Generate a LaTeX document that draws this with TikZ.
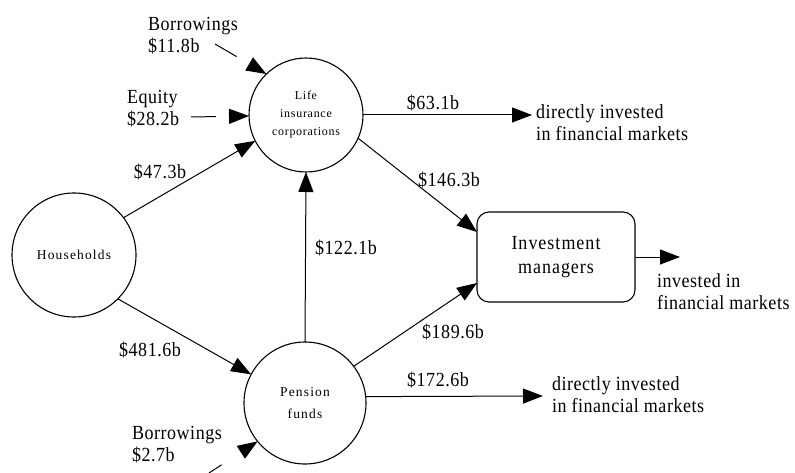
\documentclass[tikz,border=0pt]{standalone}
\usepackage{fontspec}
\setmainfont{Liberation Serif}[LetterSpace=2.7, FakeStretch=0.9]
\newfontfamily\circfont{Liberation Serif}[LetterSpace=8.5]
\newfontfamily\lifefont{Liberation Serif}[LetterSpace=6]
\newfontfamily\imfont{Liberation Serif}[LetterSpace=5, FakeStretch=0.9]
\usetikzlibrary{arrows.meta}
\begin{document}
\begin{tikzpicture}[x=1pt,y=-1pt,
  every node/.style={inner sep=0pt, outer sep=0pt},
  lbl/.style={font=\fontsize{20}{22}\selectfont, align=left},
  circ/.style={draw, circle, line width=1.1pt, align=center},
  flow/.style={line width=1pt, -{Triangle[length=20pt,width=15pt]}},
  brk/.style={line width=1pt, -{Triangle[length=20pt,width=15pt]}}
]
\useasboundingbox (0,0) rectangle (795,473);
% main nodes
\node[circ, minimum size=124pt, font=\circfont\fontsize{13.5}{22}\selectfont] (hh) at (74,255) {Households};
\node[circ, minimum size=114pt, font=\lifefont\fontsize{12}{18}\selectfont] (life) at (306,115) {Life\\insurance\\corporations};
\node[circ, minimum size=122pt, font=\circfont\fontsize{13.5}{22}\selectfont] (pen) at (305,403) {Pension\\funds};
\node[draw, rounded corners=12pt, line width=1.1pt, minimum width=158pt, minimum height=90pt, align=center, font=\imfont\fontsize{20}{24}\selectfont] (im) at (556,257) {Investment\\managers};
% free ends
\coordinate (lifeout) at (532,115);
\coordinate (penout) at (543,396);
\coordinate (imout) at (680,257);
\coordinate (borA) at (215,44);
\coordinate (eqA) at (191,117);
\coordinate (borB) at (209,473);
% text labels
\node[lbl, anchor=west] (tborA) at (148,36) {Borrowings\\\$11.8b};
\node[lbl, anchor=west] (teq) at (127,108.5) {Equity\\\$28.2b};
\node[lbl, anchor=west] (tborB) at (132,445) {Borrowings\\\$2.7b};
\node[lbl, anchor=west] (tdirA) at (536,123) {directly invested\\in financial markets};
\node[lbl, anchor=west] (tdirB) at (552,394.5) {directly invested\\in financial markets};
\node[lbl, anchor=west] (tinv) at (657,292) {invested in\\financial markets};
\node[lbl] (l473) at (160,172) {\$47.3b};
\node[lbl] (l4816) at (150,350) {\$481.6b};
\node[lbl] (l1221) at (346,248) {\$122.1b};
\node[lbl] (l631) at (433,103) {\$63.1b};
\node[lbl] (l1463) at (449,180) {\$146.3b};
\node[lbl] (l1896) at (453,332) {\$189.6b};
\node[lbl] (l1726) at (438,380) {\$172.6b};
% connectors
\draw[flow] (hh.37.5) -- (life.207);
\draw[flow] (hh.-45.6) -- (pen.152);
\draw[flow] (pen.north) -- (life.south);
\draw[flow] (life.-24.8) -- ([yshift=25pt]im.west);
\draw[flow] (pen.37.5) -- ([yshift=-26pt]im.west);
\draw[flow] (life.east) -- (lifeout);
\draw[flow] (pen.6) -- (penout);
\draw[flow] (im.east) -- (imout);
% broken inflows
\draw[brk, dash pattern=on 25pt off 300pt] (borA) -- (life.134);
\draw[brk, dash pattern=on 25pt off 300pt] (eqA) -- (life);
\draw[brk, dash pattern=on 15pt off 300pt] (borB) -- (pen.219);
\end{tikzpicture}
\end{document}
